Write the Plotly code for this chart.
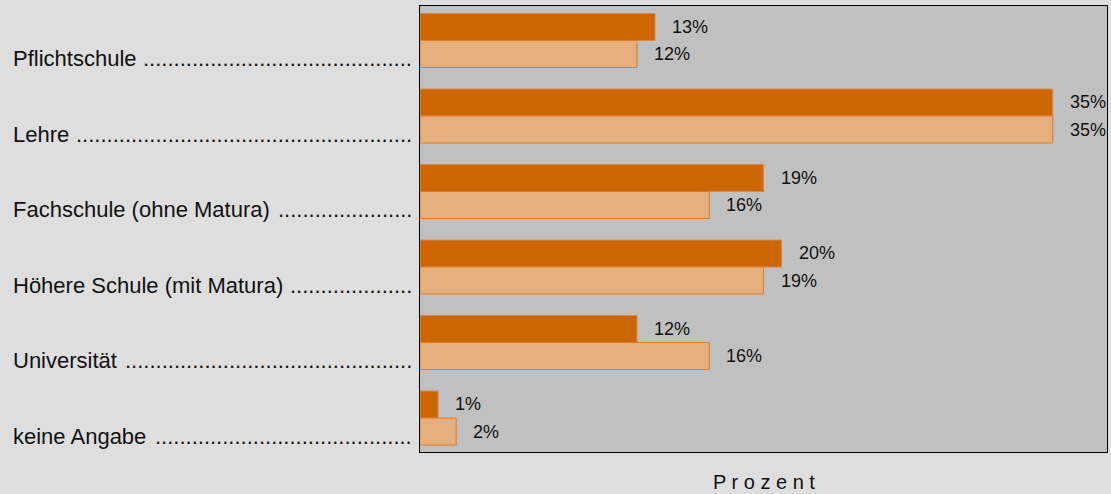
import math
import plotly.graph_objects as go

categories = [
    "Pflichtschule",
    "Lehre",
    "Fachschule (ohne Matura)",
    "Höhere Schule (mit Matura)",
    "Universität",
    "keine Angabe",
]
series_a = [13, 35, 19, 20, 12, 1]
series_b = [12, 35, 16, 19, 16, 2]

DARK = "#cc6600"
LIGHT = "#e6b07e"
PAPER = "#dedede"
PLOT = "#c0c0c0"
INK = "#111111"
FONT = "Liberation Sans, Arial, sans-serif"
LABEL_SIZE = 22
VALUE_SIZE = 18

# Advance widths (1/1000 em) of Liberation Sans / Arial, used to size the dot leaders
ADV = {
    " ": 278, "(": 333, ")": 333, ".": 278,
    "A": 667, "F": 611, "H": 722, "L": 556, "M": 833, "P": 667, "S": 667, "U": 722,
    "a": 556, "b": 556, "c": 500, "d": 556, "e": 556, "f": 278, "g": 556, "h": 556,
    "i": 222, "k": 500, "l": 222, "m": 833, "n": 556, "o": 556, "r": 333, "s": 500,
    "t": 278, "u": 556, "v": 500, "ä": 556, "ö": 556,
}

def text_width(s, size):
    return sum(ADV.get(ch, 556) for ch in s) * size / 1000.0

fig = go.Figure()
fig.add_trace(go.Bar(
    y=categories, x=series_a, orientation="h", name="A",
    marker=dict(color=DARK, line=dict(color="#d98a4a", width=1)),
    showlegend=False, hoverinfo="skip",
))
fig.add_trace(go.Bar(
    y=categories, x=series_b, orientation="h", name="B",
    marker=dict(color=LIGHT, line=dict(color="#e07a26", width=1)),
    showlegend=False, hoverinfo="skip",
))

W, H = 1111, 494
ML, MR, MT, MB = 420, 4, 6, 42
PW = W - ML - MR
PH = H - MT - MB

def px_to_paper_x(px):
    return (px - ML) / PW

def px_to_paper_y(py):
    return (H - MB - py) / PH

annotations = []
# value labels next to each bar (upper bar / lower bar of a group)
for i, cat in enumerate(categories):
    for val, off in ((series_a[i], -0.18), (series_b[i], 0.18)):
        annotations.append(dict(
            x=val, y=i + off, xref="x", yref="y",
            text=f"{val}%", showarrow=False, xanchor="left", yanchor="middle",
            xshift=15, font=dict(size=VALUE_SIZE, color=INK, family=FONT),
        ))

# category labels with dotted leaders up to the plot frame
LABEL_LEFT, LEADER_RIGHT = 11, 414
dot_w = text_width(".", LABEL_SIZE)
for i, cat in enumerate(categories):
    label_end = LABEL_LEFT + text_width(cat, LABEL_SIZE)
    n_dots = int(math.floor((LEADER_RIGHT - label_end - 10) / dot_w))
    annotations.append(dict(
        x=px_to_paper_x(LABEL_LEFT), y=i, xref="paper", yref="y",
        text=cat, showarrow=False, xanchor="left", yanchor="middle",
        yshift=-18, font=dict(size=LABEL_SIZE, color=INK, family=FONT),
    ))
    annotations.append(dict(
        x=px_to_paper_x(LEADER_RIGHT), y=i, xref="paper", yref="y",
        text="." * n_dots, showarrow=False, xanchor="right", yanchor="middle",
        yshift=-18, font=dict(size=LABEL_SIZE, color=INK, family=FONT),
    ))

# axis caption below the plot frame
annotations.append(dict(
    x=0.5, y=px_to_paper_y(482), xref="paper", yref="paper",
    text="P r o z e n t", showarrow=False, xanchor="center", yanchor="middle",
    font=dict(size=20, color=INK, family=FONT),
))

fig.update_layout(
    width=W, height=H,
    margin=dict(l=ML, r=MR, t=MT, b=MB),
    paper_bgcolor=PAPER, plot_bgcolor=PLOT,
    barmode="group", bargap=0.285, bargroupgap=0,
    font=dict(family=FONT, color=INK),
    annotations=annotations,
    xaxis=dict(
        range=[0, 38], showgrid=False, zeroline=False, showticklabels=False,
        ticks="", showline=True, linecolor="#000000", linewidth=1, mirror=True,
    ),
    yaxis=dict(
        type="category", categoryorder="array", categoryarray=categories,
        range=[5.45, -0.457], showgrid=False, zeroline=False, showticklabels=False,
        ticks="", showline=True, linecolor="#000000", linewidth=1, mirror=True,
    ),
)

fig.write_html("out.html")
